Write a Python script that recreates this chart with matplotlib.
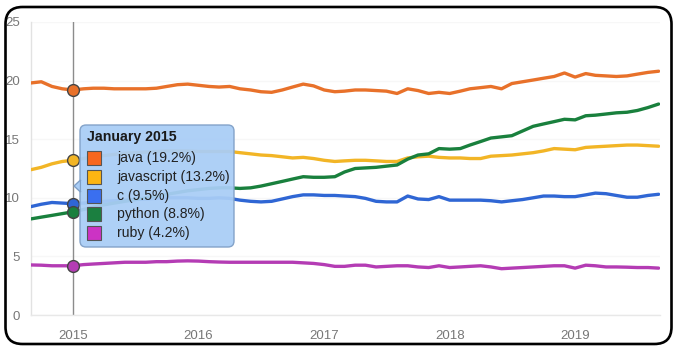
import matplotlib
matplotlib.use("Agg")
import matplotlib.pyplot as plt
import matplotlib.dates as mdates
from matplotlib.patches import FancyBboxPatch, Polygon, Rectangle
from matplotlib.transforms import IdentityTransform
import pandas as pd

# monthly samples, Sep 2014 .. Sep 2019
months = pd.date_range("2014-09-01", "2019-09-01", freq="MS")

java = [19.8, 19.9, 19.5, 19.3, 19.2, 19.3, 19.35, 19.35, 19.3, 19.3, 19.3, 19.3, 19.35, 19.5, 19.65, 19.7,
        19.6, 19.5, 19.45, 19.5, 19.3, 19.2, 19.05, 19.0, 19.2, 19.45, 19.7, 19.55,
        19.2, 19.05, 19.1, 19.2, 19.2, 19.15, 19.1, 18.9, 19.3, 19.15, 18.9, 19.0,
        18.9, 19.1, 19.3, 19.4, 19.5, 19.3, 19.75, 19.9, 20.05, 20.2, 20.35, 20.65,
        20.3, 20.6, 20.45, 20.4, 20.35, 20.4, 20.55, 20.7, 20.8]
javascript = [12.4, 12.6, 12.9, 13.1, 13.2, 13.35, 13.5, 13.6, 13.7, 13.8, 13.85, 13.9, 13.95, 14.0, 14.0, 14.0,
              13.95, 13.95, 13.95, 13.95, 13.85, 13.75, 13.65, 13.6, 13.5, 13.4, 13.45, 13.35,
              13.2, 13.1, 13.15, 13.2, 13.2, 13.15, 13.1, 13.1, 13.4, 13.5, 13.55, 13.45,
              13.4, 13.4, 13.35, 13.35, 13.55, 13.6, 13.65, 13.75, 13.85, 14.0, 14.2, 14.15,
              14.1, 14.3, 14.35, 14.4, 14.45, 14.5, 14.5, 14.45, 14.4]
c_lang = [9.25, 9.45, 9.6, 9.55, 9.5, 9.55, 9.6, 9.7, 9.75, 9.8, 9.85, 9.9, 9.95, 10.0, 10.0, 10.0,
          9.95, 9.95, 10.0, 9.95, 9.8, 9.7, 9.65, 9.7, 9.9, 10.1, 10.25, 10.25,
          10.2, 10.2, 10.15, 10.1, 9.95, 9.7, 9.65, 9.65, 10.15, 9.9, 9.85, 10.1,
          9.8, 9.8, 9.8, 9.8, 9.75, 9.65, 9.75, 9.85, 10.0, 10.15, 10.15, 10.1,
          10.1, 10.25, 10.4, 10.35, 10.2, 10.05, 10.05, 10.2, 10.3]
python = [8.2, 8.35, 8.5, 8.65, 8.8, 9.0, 9.2, 9.4, 9.55, 9.7, 9.85, 10.0, 10.15, 10.3, 10.45, 10.6,
          10.7, 10.8, 10.85, 10.85, 10.8, 10.85, 11.0, 11.2, 11.4, 11.6, 11.8, 11.75,
          11.75, 11.8, 12.2, 12.5, 12.55, 12.6, 12.7, 12.8, 13.3, 13.65, 13.75, 14.2,
          14.15, 14.2, 14.5, 14.8, 15.1, 15.2, 15.3, 15.7, 16.1, 16.3, 16.5, 16.7,
          16.65, 17.0, 17.05, 17.15, 17.25, 17.3, 17.45, 17.7, 18.0]
ruby = [4.27, 4.25, 4.2, 4.2, 4.2, 4.3, 4.35, 4.4, 4.45, 4.5, 4.5, 4.5, 4.55, 4.55, 4.6, 4.62,
        4.6, 4.55, 4.52, 4.5, 4.5, 4.5, 4.5, 4.5, 4.5, 4.5, 4.45, 4.4,
        4.3, 4.15, 4.15, 4.25, 4.25, 4.1, 4.15, 4.2, 4.2, 4.1, 4.05, 4.2,
        4.05, 4.1, 4.15, 4.2, 4.1, 3.95, 4.0, 4.05, 4.1, 4.15, 4.2, 4.2,
        4.0, 4.25, 4.2, 4.1, 4.1, 4.08, 4.05, 4.05, 4.0]

names = ["java", "javascript", "c", "python", "ruby"]
series = [java, javascript, c_lang, python, ruby]
line_colors = ["#e8712a", "#f2b526", "#2f66d4", "#19803d", "#b43cb4"]
swatch_colors = ["#f7671f", "#fdb512", "#3a6ff0", "#1b7f40", "#cc33c4"]
hover_month = pd.Timestamp("2015-01-01")
hover_title = "January 2015"

W, H = 685, 353
fig = plt.figure(figsize=(W / 100, H / 100), dpi=100)
fig.patch.set_facecolor("white")
plt.rcParams["font.family"] = ["Liberation Sans", "DejaVu Sans"]

ax = fig.add_axes([31 / W, 1 - 315 / H, 629 / W, (315 - 22) / H])
ax.set_facecolor("white")

for vals, col in zip(series, line_colors):
    ax.plot(months, vals, color=col, lw=2.4, solid_capstyle="round", solid_joinstyle="round", zorder=3)

# hover cursor
ax.axvline(hover_month, color="#8c8c8c", lw=1, zorder=2)
idx = list(months).index(hover_month)
for vals, col in zip(series, line_colors):
    ax.plot([hover_month], [vals[idx]], "o", ms=8.5, mfc=col, mec="#444444", mew=1, zorder=4)

ax.set_ylim(0, 25)
ax.set_yticks([0, 5, 10, 15, 20, 25])
ax.set_xlim(months[0], months[-1] + pd.Timedelta(days=4))
ax.xaxis.set_major_locator(mdates.YearLocator())
ax.xaxis.set_major_formatter(mdates.DateFormatter("%Y"))
ax.tick_params(length=0, labelsize=9.5, labelcolor="#777777")
ax.tick_params(axis="x", pad=11)
ax.tick_params(axis="y", pad=8)
ax.grid(axis="y", color="#f7f7f7", lw=1)
for s in ["top", "right"]:
    ax.spines[s].set_visible(False)
ax.spines["left"].set_color("#e2e2e2")
ax.spines["bottom"].set_color("#e8e8e8")
ax.spines["left"].set_linewidth(1)
ax.spines["bottom"].set_linewidth(1)


def fy(y):
    return H - y


# tooltip box
tip = FancyBboxPatch((80, fy(247)), 154, 122, boxstyle="round,pad=0,rounding_size=6",
                     transform=IdentityTransform(), facecolor="#a9cdf6", edgecolor="#7f9fc6",
                     lw=1, alpha=0.94, zorder=5)
fig.add_artist(tip)
notch = Polygon([(80.5, fy(180)), (74, fy(186)), (80.5, fy(192))], closed=True,
                transform=IdentityTransform(), facecolor="#a9cdf6", edgecolor="#7f9fc6",
                lw=1, zorder=5)
fig.add_artist(notch)
fig.add_artist(Rectangle((80.6, fy(191)), 1.5, 10, transform=IdentityTransform(),
                         facecolor="#a9cdf6", edgecolor="none", zorder=6))

fig.text(87 / W, fy(137) / H, hover_title, fontsize=10.2, fontweight="bold", color="#1a1a1a",
         va="center", ha="left", zorder=7)
row_y = [158, 177, 196, 214, 233]
for name, vals, sw, ry in zip(names, series, swatch_colors, row_y):
    fig.add_artist(Rectangle((87, fy(ry) - 7), 14, 14, transform=IdentityTransform(),
                             facecolor=sw, edgecolor="#555555", lw=0.8, zorder=7))
    fig.text(117 / W, fy(ry) / H, f"{name} ({vals[idx]:.1f}%)", fontsize=10.1, color="#222222",
             va="center", ha="left", zorder=7)

# rounded outer frame
frame = FancyBboxPatch((5.5, fy(344)), 666, 337, boxstyle="round,pad=0,rounding_size=17",
                       transform=IdentityTransform(), facecolor="none", edgecolor="black",
                       lw=1.9, zorder=8)
fig.add_artist(frame)

fig.savefig("out.png", dpi=100, facecolor="white")
